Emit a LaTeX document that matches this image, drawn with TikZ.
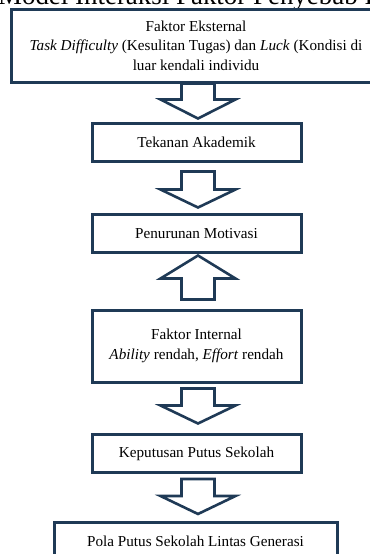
\documentclass[tikz,border=0pt]{standalone}
\usepackage{fontspec}
\setmainfont{Liberation Serif}
\usepackage{tikz}
\usetikzlibrary{calc}
\definecolor{navy}{HTML}{1F3A56}

% hollow block arrow: start of shaft, shaft length, head length
\newcommand{\fatarrow}[3]{%
  \draw[arrowbody] (#1) ++(-0.825,0) -- ++(0,{-(#2)}) -- ++(-1.05,0)
    -- ++(1.875,{-(#3)}) -- ++(1.875,{#3}) -- ++(-1.05,0) -- ++(0,{#2}) -- cycle;}

\begin{document}
\begin{tikzpicture}
\useasboundingbox (0,0) rectangle (18.5,-27.7);
\clip (0,0) rectangle (18.5,-27.7);
\tikzstyle{box}=[rectangle, draw=navy, line width=0.15cm, fill=white, align=center,
    minimum width=10.45cm, minimum height=1.9cm, inner sep=0pt,
    font=\fontsize{21.6}{27.7}\selectfont]
\tikzstyle{arrowbody}=[draw=navy, line width=0.13cm, fill=white, line join=miter]

\node[anchor=base west, inner sep=0pt, font=\fontsize{38.3}{45}\selectfont] (title)
    at (-0.1,-0.22) {Model Interaksi Faktor Penyebab Putus};

\node[box, minimum width=18.5cm, minimum height=3.65cm] (ext) at (9.8,-2.275)
    {Faktor Eksternal\\ \textit{Task Difficulty} (Kesulitan Tugas) dan \textit{Luck} (Kondisi di\\ luar kendali individu};
\node[box] (tek) at (9.825,-7.1) {Tekanan Akademik};
\node[box] (pen) at (9.825,-11.675) {Penurunan Motivasi};
\node[box, minimum height=3.6cm] (int) at (9.825,-17.3)
    {Faktor Internal\\ \textit{Ability} rendah, \textit{Effort} rendah};
\node[box] (kep) at (9.825,-22.675) {Keputusan Putus Sekolah};
\node[box, minimum width=14.15cm] (pola) at (9.775,-27.05) {Pola Putus Sekolah Lintas Generasi};

\fatarrow{[xshift=0.1cm]ext.south}{0.8}{0.95}
\fatarrow{[xshift=0.075cm,yshift=-0.45cm]tek.south}{0.9}{0.9}
\fatarrow{[xshift=0.075cm,yshift=0.45cm]int.north}{-1.05}{-1.15}
\fatarrow{[xshift=0.075cm,yshift=-0.25cm]int.south}{0.85}{0.9}
\fatarrow{[xshift=0.075cm,yshift=-0.25cm]kep.south}{0.85}{0.9}
\end{tikzpicture}
\end{document}
